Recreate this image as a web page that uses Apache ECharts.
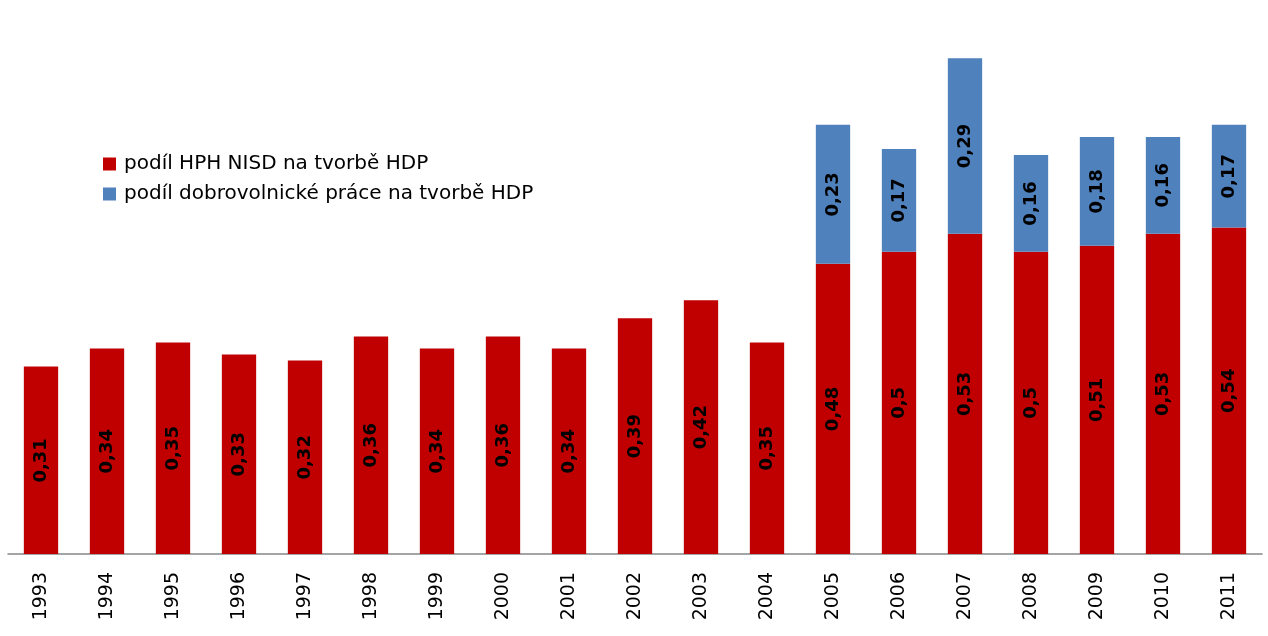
<!DOCTYPE html>
<html>
<head>
<meta charset="utf-8">
<script src="https://cdn.jsdelivr.net/npm/echarts@6/dist/echarts.min.js"></script>
<style>html,body{margin:0;padding:0;background:#fff}#c{width:1268px;height:636px}</style>
</head>
<body>
<div id="c"></div>
<script>
const years = ['1993','1994','1995','1996','1997','1998','1999','2000','2001','2002','2003','2004','2005','2006','2007','2008','2009','2010','2011'];
const nisd = [0.31,0.34,0.35,0.33,0.32,0.36,0.34,0.36,0.34,0.39,0.42,0.35,0.48,0.5,0.53,0.5,0.51,0.53,0.54];
const volunteer = [null,null,null,null,null,null,null,null,null,null,null,null,0.23,0.17,0.29,0.16,0.18,0.16,0.17];
const seriesNames = ['podíl HPH NISD na tvorbě HDP','podíl dobrovolnické práce na tvorbě HDP'];

const FONT = 'DejaVu Sans, Verdana, sans-serif';
const fmt = p => String(p.value).replace('.', ',');
const lbl = {show:true, position:'inside', rotate:90, color:'#000', fontWeight:'bold', fontSize:18, fontFamily:FONT, formatter: fmt};

const chart = echarts.init(document.getElementById('c'));
chart.setOption({
  animation:false,
  grid:{left:8, right:6, top:10, bottom:82},
  legend:{
    orient:'vertical', left:98, top:149, itemWidth:13, itemHeight:13, itemGap:10,
    icon:'rect',
    textStyle:{fontSize:20, color:'#000', fontFamily:FONT, padding:[0,0,0,3]},
    data: seriesNames
  },
  xAxis:{
    type:'category', data:years,
    axisLine:{lineStyle:{color:'#868686', width:1.5}},
    axisTick:{show:false},
    axisLabel:{rotate:90, margin:18, fontSize:19, color:'#000', fontFamily:FONT}
  },
  yAxis:{type:'value', min:0, max:0.9, interval:0.1, show:false, splitLine:{show:false}},
  series:[
    {name:seriesNames[0], type:'bar', stack:'t', data:nisd, barWidth:'52%', itemStyle:{color:'#C00000'}, label:lbl},
    {name:seriesNames[1], type:'bar', stack:'t', data:volunteer, barWidth:'52%', itemStyle:{color:'#4F81BD'}, label:lbl}
  ]
});
</script>
</body>
</html>
